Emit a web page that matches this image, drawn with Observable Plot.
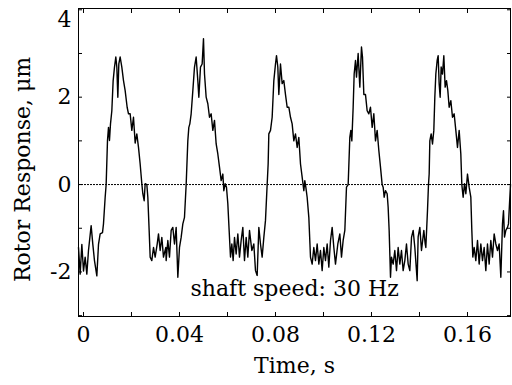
<!DOCTYPE html>
<html>
<head>
<meta charset="utf-8">
<script src="https://cdn.jsdelivr.net/npm/d3@7"></script>
<script src="https://cdn.jsdelivr.net/npm/@observablehq/plot@0.6"></script>
<style>
  html, body { margin: 0; padding: 0; background: #fff; }
  #chart { width: 512px; height: 385px; }
</style>
</head>
<body>
<div id="chart"></div>
<script>
// Time (s)
const timeS = [
  -0.00208, -0.00139, -0.00069, 0.00000, 0.00069, 0.00139, 0.00208, 0.00319, 0.00389, 0.00458,
  0.00556, 0.00625, 0.00694, 0.00792, 0.00833, 0.00903, 0.00944, 0.01000, 0.01042, 0.01083,
  0.01125, 0.01181, 0.01236, 0.01292, 0.01347, 0.01389, 0.01431, 0.01472, 0.01528, 0.01597,
  0.01667, 0.01736, 0.01819, 0.01875, 0.01944, 0.02014, 0.02083, 0.02153, 0.02222, 0.02292,
  0.02361, 0.02431, 0.02472, 0.02528, 0.02569, 0.02639, 0.02681, 0.02736, 0.02778, 0.02847,
  0.02917, 0.02986, 0.03069, 0.03125, 0.03194, 0.03264, 0.03333, 0.03431,
  0.03444, 0.03514, 0.03583, 0.03653, 0.03722, 0.03792, 0.03861, 0.03931, 0.04000, 0.04069,
  0.04139, 0.04208, 0.04278, 0.04347, 0.04389, 0.04431, 0.04486, 0.04556, 0.04625, 0.04694,
  0.04764, 0.04806, 0.04875, 0.04944, 0.05000, 0.05042, 0.05111, 0.05181, 0.05250, 0.05319,
  0.05389, 0.05458, 0.05528, 0.05597, 0.05667, 0.05736, 0.05806, 0.05847, 0.05903, 0.05958,
  0.06014, 0.06069, 0.06125, 0.06181, 0.06236, 0.06292, 0.06361, 0.06431, 0.06500, 0.06569,
  0.06639, 0.06708, 0.06778, 0.06847, 0.06917, 0.07014,
  0.07097, 0.07167, 0.07236, 0.07306, 0.07375, 0.07444, 0.07514, 0.07583, 0.07653, 0.07694,
  0.07722, 0.07792, 0.07861, 0.07931, 0.08000, 0.08042, 0.08097, 0.08139, 0.08208, 0.08278,
  0.08347, 0.08417, 0.08486, 0.08556, 0.08625, 0.08694, 0.08764, 0.08833, 0.08903, 0.08972,
  0.09042, 0.09111, 0.09181, 0.09222, 0.09264, 0.09319, 0.09389, 0.09458, 0.09528, 0.09597,
  0.09667, 0.09736, 0.09806, 0.09875, 0.09944, 0.10014, 0.10083, 0.10153, 0.10222, 0.10292,
  0.10361, 0.10431, 0.10500, 0.10597,
  0.10681, 0.10750, 0.10819, 0.10889, 0.10958, 0.11028, 0.11097, 0.11139, 0.11181, 0.11236,
  0.11278, 0.11333, 0.11375, 0.11444, 0.11514, 0.11583, 0.11625, 0.11681, 0.11750, 0.11819,
  0.11889, 0.11958, 0.12028, 0.12097, 0.12167, 0.12236, 0.12306, 0.12375, 0.12444, 0.12486,
  0.12528, 0.12583, 0.12653, 0.12694, 0.12736, 0.12792, 0.12833, 0.12903, 0.12972, 0.13042,
  0.13111, 0.13181, 0.13250, 0.13319, 0.13389, 0.13458, 0.13528, 0.13597, 0.13667, 0.13736,
  0.13806, 0.13903, 0.13944, 0.14014, 0.14083, 0.14181,
  0.14236, 0.14264, 0.14333, 0.14375, 0.14403, 0.14431, 0.14486, 0.14542, 0.14597, 0.14639,
  0.14681, 0.14736, 0.14778, 0.14819, 0.14861, 0.14903, 0.14958, 0.15014, 0.15069, 0.15125,
  0.15181, 0.15236, 0.15306, 0.15375, 0.15444, 0.15514, 0.15583, 0.15653, 0.15722, 0.15764,
  0.15819, 0.15875, 0.15931, 0.16000, 0.16069, 0.16139, 0.16181, 0.16222, 0.16278, 0.16347,
  0.16417, 0.16486, 0.16556, 0.16625, 0.16694, 0.16764, 0.16833, 0.16903, 0.16972, 0.17042,
  0.17111, 0.17181, 0.17250, 0.17319, 0.17389, 0.17458, 0.17500, 0.17542, 0.17597, 0.17667,
  0.17708, 0.17792
];

// Rotor response (µm)
const responseUm = [
  -1.44, -2.05, -1.37, -1.98, -1.66, -2.05, -1.51, -0.94, -1.37, -1.74,
  -2.09, -1.37, -1.13, -1.10, -0.90, -0.29, 0.00, 1.01, 1.31, 1.01,
  1.39, 1.69, 2.38, 2.69, 2.92, 2.69, 2.00, 2.76, 2.92, 2.69,
  2.38, 2.15, 1.77, 1.62, 1.62, 1.24, 1.54, 0.95, 1.16, 0.85,
  0.47, 0.02, -0.21, -0.37, 0.02, 0.00, -0.29, -1.05, -1.66, -1.74,
  -1.44, -1.66, -1.37, -1.13, -1.51, -1.21, -1.66, -1.44,
  -1.74, -1.28, -1.66, -1.05, -0.98, -1.36, -0.98, -2.12, -1.44, -1.21,
  -0.90, -0.75, 0.00, 1.00, 1.31, 1.39, 1.62, 2.15, 2.69, 2.92,
  2.38, 2.00, 2.69, 2.76, 3.34, 2.53, 2.00, 1.85, 1.54, 1.62,
  1.24, 1.47, 0.93, 0.70, 0.40, 0.09, 0.24, -0.14, 0.02, -0.06,
  -0.44, -1.05, -1.66, -1.36, -1.74, -1.21, -1.59, -1.13, -1.66, -1.28,
  -0.98, -1.74, -1.21, -1.66, -1.05, -1.51,
  -1.36, -1.97, -2.08, -0.98, -1.36, -1.66, -1.21, -0.82, 0.00, 0.47,
  1.16, 1.24, 1.54, 2.38, 2.76, 2.95, 2.69, 2.06, 2.76, 2.31,
  2.38, 2.06, 1.77, 1.77, 1.54, 1.39, 1.00, 1.16, 0.85, 1.08,
  0.47, 0.17, -0.14, 0.09, -0.06, -0.29, -0.75, -1.66, -1.82, -1.44,
  -1.74, -1.36, -1.82, -1.51, -1.97, -1.44, -1.74, -1.36, -1.89, -1.28,
  -0.98, -1.44, -1.82, -1.36,
  -1.13, -1.66, -1.28, -1.05, -0.06, 0.00, 1.08, 1.24, 1.00, 1.77,
  2.53, 2.84, 2.46, 3.00, 2.23, 3.15, 2.92, 2.06, 2.06, 1.69,
  1.62, 1.77, 1.31, 1.62, 1.00, 1.24, 0.78, 0.40, 0.00, -0.06,
  -0.29, -0.14, -0.21, -0.52, -1.05, -2.12, -1.66, -1.82, -1.51, -1.97,
  -1.44, -1.82, -1.51, -1.97, -1.74, -1.36, -1.82, -1.97, -1.21, -1.05,
  -1.44, -2.20, -1.20, -0.98, -1.51, -1.05,
  -1.35, -1.44, -0.60, 0.00, 0.24, 1.00, 1.16, 0.93, 1.24, 2.00,
  2.53, 2.84, 2.95, 2.31, 2.00, 2.69, 2.53, 2.95, 2.23, 2.38,
  2.15, 1.77, 1.92, 1.54, 1.62, 1.24, 0.85, 1.24, 0.70, 0.00,
  -0.29, 0.02, -0.21, 0.24, -0.06, -0.29, -1.05, -1.66, -1.44, -1.74,
  -1.28, -1.82, -1.36, -1.74, -1.44, -1.97, -1.36, -1.82, -1.28, -1.66,
  -1.13, -1.36, -1.51, -1.36, -2.12, -0.90, -0.60, -1.20, -1.05, -0.98,
  -0.90, 0.00
];

const xDomain = [-0.00208, 0.17792];
const yDomain = [-3.02, 4.03];
const xTickLabels = [0, 0.04, 0.08, 0.12, 0.16];
const xTickMarks = [0, 0.02, 0.04, 0.06, 0.08, 0.10, 0.12, 0.14, 0.16];
const yTickLabels = [-2, 0, 2];
const yTopLabel = [4];
const yTickMarks = [-3, -2, -1, 0, 1, 2, 3, 4];
const xTitle = "Time, s";
const yTitle = "Rotor Response, μm";
const annotation = "shaft speed: 30 Hz";

const n = Math.min(timeS.length, responseUm.length);
const data = d3.range(n).map(i => ({t: timeS[i], v: responseUm[i]}));

const fmtX = d => d === 0 ? "0" : d.toFixed(2);
const fmtY = d => String(d);

const chart = Plot.plot({
  width: 512,
  height: 385,
  marginLeft: 78,
  marginRight: 2,
  marginTop: 8,
  marginBottom: 69,
  style: {fontFamily: "DejaVu Serif", fontSize: "22px", background: "#fff", color: "#000"},
  x: {domain: xDomain, label: null},
  y: {domain: yDomain, label: null},
  marks: [
    Plot.ruleY([0], {stroke: "#000", strokeWidth: 1, strokeDasharray: "2,1"}),
    Plot.line(data, {x: "t", y: "v", stroke: "#000", strokeWidth: 1.4}),
    Plot.frame({stroke: "#000", strokeWidth: 1}),
    // inward ticks
    Plot.axisY(yTickMarks, {anchor: "left", tickSize: 4, dx: 4, fill: "none", label: null}),
    Plot.axisY(yTickMarks, {anchor: "right", tickSize: 4, dx: -4, fill: "none", label: null}),
    Plot.axisX(xTickMarks, {anchor: "bottom", tickSize: 4, dy: -4, fill: "none", label: null}),
    Plot.axisX(xTickMarks, {anchor: "top", tickSize: 4, dy: 4, fill: "none", label: null}),
    // tick labels
    Plot.axisY(yTickLabels, {anchor: "left", tickSize: 0, tickPadding: 7, tickFormat: fmtY, label: null}),
    Plot.axisY(yTopLabel, {anchor: "left", tickSize: 0, tickPadding: 7, dy: 10, tickFormat: fmtY, label: null}),
    Plot.axisX(xTickLabels, {anchor: "bottom", tickSize: 0, tickPadding: 10, tickFormat: fmtX, label: null}),
    // titles
    Plot.text([xTitle], {frameAnchor: "bottom", dy: 49, textAnchor: "middle", lineAnchor: "middle", fontSize: 22}),
    Plot.text([yTitle], {frameAnchor: "left", rotate: -90, dx: -56, dy: 7, textAnchor: "middle", lineAnchor: "middle", fontSize: 22}),
    Plot.text([annotation], {x: 0.0446, y: -2.4, textAnchor: "start", lineAnchor: "middle", fontSize: 22})
  ]
});

document.getElementById("chart").appendChild(chart);
</script>
</body>
</html>
